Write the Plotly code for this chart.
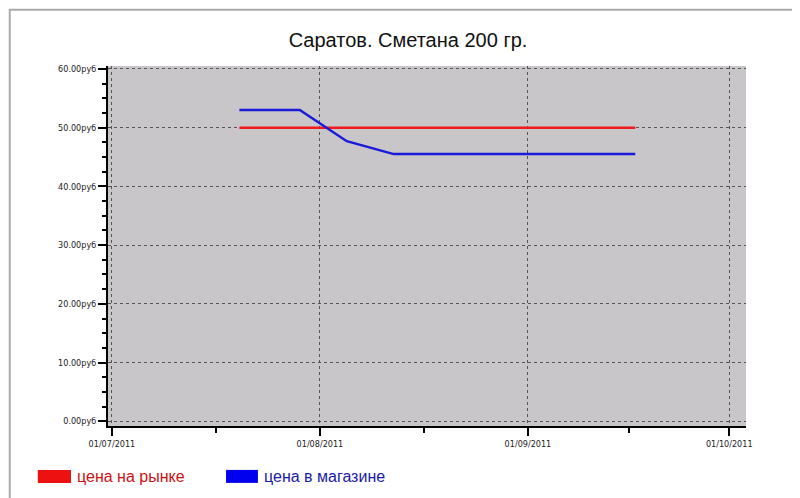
import plotly.graph_objects as go

# data
dates = ['2011-07-20', '2011-07-29', '2011-08-05', '2011-08-12', '2011-08-19',
         '2011-08-26', '2011-09-02', '2011-09-09', '2011-09-17']
market_price = [50.0, 50.0, 50.0, 50.0, 50.0, 50.0, 50.0, 50.0, 50.0]
store_price = [53.0, 53.0, 47.7, 45.5, 45.5, 45.5, 45.5, 45.5, 45.5]
tick_dates = ['2011-07-01', '2011-08-01', '2011-09-01', '2011-10-01']
tick_text = ['01/07/2011', '01/08/2011', '01/09/2011', '01/10/2011']

fig = go.Figure()
fig.add_trace(go.Scatter(x=dates, y=market_price, mode='lines', name='цена на рынке',
                         line=dict(color='#ee1c1c', width=2.5)))
fig.add_trace(go.Scatter(x=dates, y=store_price, mode='lines', name='цена в магазине',
                         line=dict(color='#1a1ad8', width=2.5)))

fig.update_layout(
    width=800, height=498,
    margin=dict(l=100, r=62, t=58, b=80),
    plot_bgcolor='#c8c6c8', paper_bgcolor='white',
    showlegend=False,
    font=dict(family='DejaVu Sans', color='#222'),
    title=dict(text='Саратов. Сметана 200 гр.', x=0.5, y=0.95, xanchor='center',
               font=dict(family='Liberation Sans', size=20, color='#111')),
)
fig.update_xaxes(
    type='date', range=['2011-06-30 10:00', '2011-10-03 12:00'],
    tickvals=tick_dates, ticktext=tick_text,
    tickfont=dict(size=9, family='DejaVu Sans Condensed'),
    showgrid=True, gridcolor='#555', griddash='dot', gridwidth=1,
    showline=True, linecolor='black', linewidth=2,
    ticks='outside', ticklen=8, tickwidth=2, tickcolor='black',
    minor=dict(tickvals=['2011-07-16 12:00', '2011-08-16 12:00', '2011-09-16'],
               ticks='outside', ticklen=5, tickcolor='black', showgrid=False),
    zeroline=False,
)
fig.update_yaxes(
    range=[-0.8, 60.5], tickvals=[0, 10, 20, 30, 40, 50, 60],
    ticktext=[f'{v:.2f}руб' for v in [0, 10, 20, 30, 40, 50, 60]],
    tickfont=dict(size=9, family='DejaVu Sans Condensed'),
    showgrid=True, gridcolor='#555', griddash='dot', gridwidth=1,
    showline=True, linecolor='black', linewidth=2,
    ticks='outside', ticklen=8, tickwidth=2, tickcolor='black',
    minor=dict(dtick=2.5, ticks='outside', ticklen=4, tickcolor='black', showgrid=False),
    zeroline=False,
)

# legend swatches and labels
for sx0, sx1, txt, col, tcol in [(-0.110, -0.058, 'цена на рынке', '#ee1111', '#cc1111'),
                                 (0.185, 0.235, 'цена в магазине', '#0000ee', '#1a1aa8')]:
    fig.add_shape(type='rect', xref='paper', yref='paper', x0=sx0, x1=sx1,
                  y0=-0.158, y1=-0.122, fillcolor=col, line=dict(width=0))
    fig.add_annotation(text=txt, xref='paper', yref='paper', x=sx1 + 0.006, y=-0.14,
                       xanchor='left', yanchor='middle', showarrow=False,
                       font=dict(size=16, color=tcol, family='Liberation Sans'))

fig.add_shape(type='rect', xref='paper', yref='paper', x0=-0.154, x1=1.094,
              y0=-0.217, y1=1.156, line=dict(color='#aaa', width=2))

fig.write_html('out.html')
